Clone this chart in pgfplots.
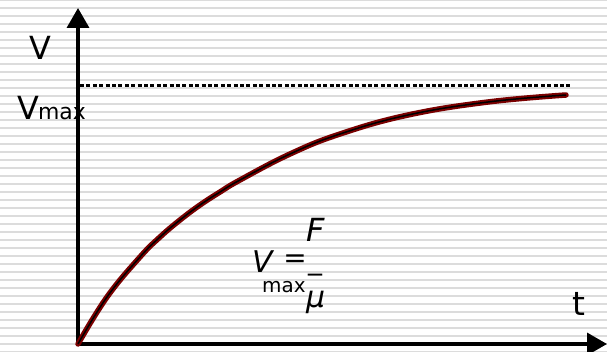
\documentclass[border=0pt]{standalone}
\usepackage{pgfplots}
\usepackage{pgfplotstable}
\pgfplotsset{compat=1.18}
\usetikzlibrary{arrows.meta}
\usepackage{fontspec}
\setmainfont{DejaVu Sans}
\definecolor{stripe}{HTML}{DCDCDC}
\definecolor{curvered}{HTML}{7A0000}

% curve, x from the vertical axis, y up from the time axis
\pgfplotstableread{
x y
0 0
29 47
62 87
82 107
102 124
122 139
142 152
162 164
212 190
262 210
330 229
410 242
488 249
}\velocity

\begin{document}
\begin{tikzpicture}
\useasboundingbox (0,0) rectangle (607bp,352bp);
\fill[white] (0,0) rectangle (607bp,352bp);
% ruled background
\foreach \k in {0,...,44}{
  \fill[stripe] (0,{352bp-8bp*\k-1bp}) rectangle (607bp,{352bp-8bp*\k+1bp});
}
\begin{axis}[
    at={(78bp,8bp)}, anchor=south west,
    x=1bp, y=1bp,
    xmin=0, xmax=529, ymin=0, ymax=336,
    enlargelimits=false,
    axis lines=left,
    axis line style={line width=3.5bp, -{Triangle[width=22bp,length=20bp]}},
    xtick=\empty, ytick=\empty,
    clip=false,
]
\addplot[line width=3bp, dash pattern=on 4bp off 2.4bp] coordinates {(2,258) (492,258)};
\addplot[smooth, tension=0.7, line width=5.5bp, curvered, line cap=round] table {\velocity};
\addplot[smooth, tension=0.7, line width=1.5bp, black] table {\velocity};
\end{axis}
% labels
\node[anchor=base west, inner sep=0, font=\fontsize{32}{32}\selectfont] at (29bp,292bp) {V};
\node[anchor=base west, inner sep=0] at (17bp,232bp)
  {\fontsize{32}{32}\selectfont V\kern-1bp\fontsize{22}{22}\selectfont max};
\node[anchor=base west, inner sep=0, font=\fontsize{33}{33}\selectfont] at (572bp,37bp) {t};
% formula V_max = F / mu
\node[anchor=base west, inner sep=0, font=\fontsize{30}{30}\selectfont\itshape] at (252bp,79bp) {V};
\node[inner sep=0, font=\fontsize{28}{28}\selectfont] at (295bp,90.5bp) {=};
\node[anchor=base west, inner sep=0, font=\fontsize{28}{28}\selectfont] at (308bp,82bp) {\_};
\node[anchor=base west, inner sep=0, font=\fontsize{32}{32}\selectfont\itshape] at (306bp,110bp) {F};
\node[anchor=base west, inner sep=0, font=\fontsize{20}{20}\selectfont] at (262bp,59bp) {max};
\node[anchor=base west, inner sep=0, font=\fontsize{30}{30}\selectfont\itshape] at (306bp,44bp) {μ};
\end{tikzpicture}
\end{document}
